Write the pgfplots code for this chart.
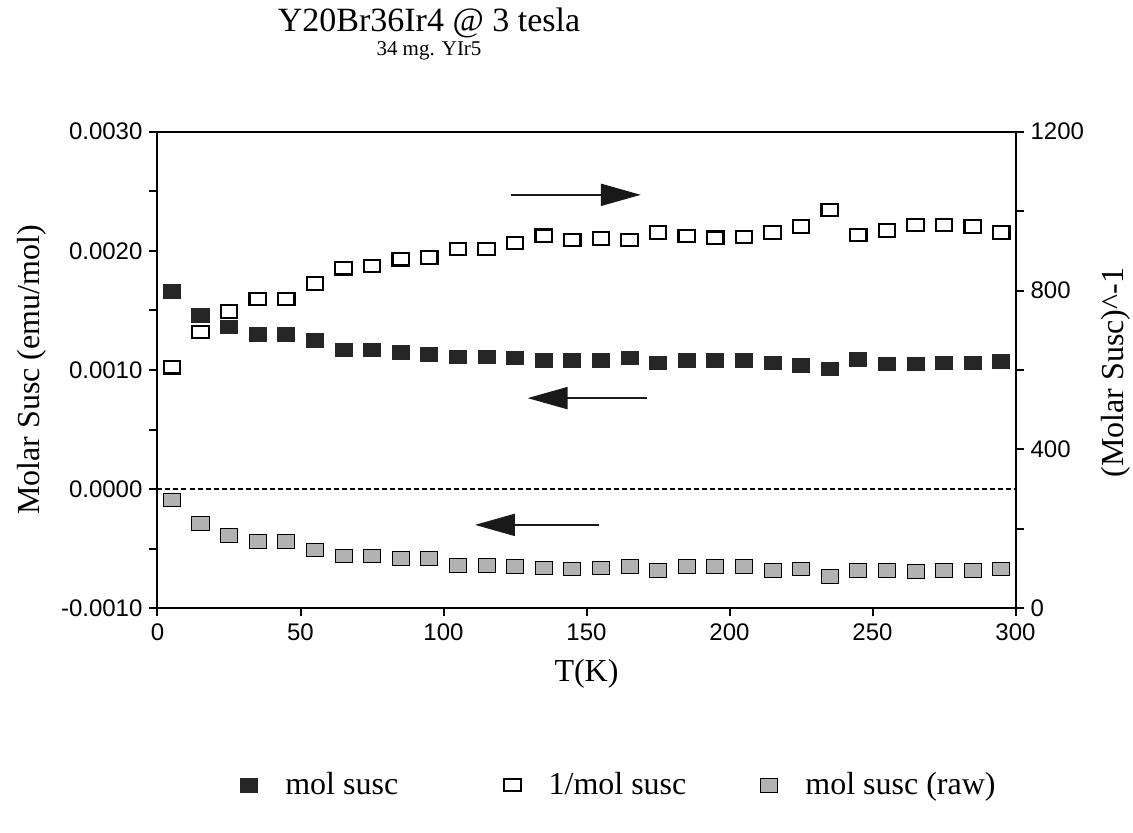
\documentclass[border=0pt]{standalone}
\usepackage{fontspec}
\setmainfont{Liberation Serif}
\newfontfamily\arial{Liberation Sans}
\usepackage{pgfplots}
\pgfplotsset{compat=1.18}
\usepackage{pgfplotstable}
\usetikzlibrary{arrows.meta}

% T(K), molar susc, 1/molar susc, raw molar susc
\pgfplotstableread{
T    chi      inv   raw
5    0.00166  607   -0.00009
15   0.00146  696   -0.00029
25   0.00136  747   -0.00039
35   0.00130  779   -0.00044
45   0.00130  779   -0.00044
55   0.00125  818   -0.00051
65   0.00117  856   -0.00056
75   0.00117  862   -0.00056
85   0.00115  879   -0.00058
95   0.00113  883   -0.00058
105  0.00111  905   -0.00064
115  0.00111  905   -0.00064
125  0.00110  920   -0.00065
135  0.00108  938   -0.00066
145  0.00108  927   -0.00067
155  0.00108  931   -0.00066
165  0.00110  927   -0.00065
175  0.00106  946   -0.00068
185  0.00108  937   -0.00065
195  0.00108  933   -0.00065
205  0.00108  935   -0.00065
215  0.00106  946   -0.00068
225  0.00104  961   -0.00067
235  0.00101  1003  -0.00073
245  0.00109  940   -0.00068
255  0.00105  951   -0.00068
265  0.00105  965   -0.00069
275  0.00106  965   -0.00068
285  0.00106  961   -0.00068
295  0.00107  946   -0.00067
}\susc

\newcommand\lab{\fontsize{16}{19}\selectfont}

\pgfplotsset{
  filled/.style={only marks, mark=square*, mark size=4.25pt,
    mark options={yscale=0.8, draw=black!85, fill=black!85}},
  hollow/.style={only marks, mark=square*, mark size=4.1pt,
    mark options={yscale=0.76, draw=black, fill=white, line width=1.1pt}},
  rawst/.style={only marks, mark=square*, mark size=4.25pt,
    mark options={yscale=0.8, draw=none, fill=black!30}},
  common/.style={
    scale only axis, width=429pt, height=238.3pt,
    xmin=0, xmax=300,
    tick align=outside,
    major tick length=4pt, minor tick length=4pt,
    tick style={black, line width=1pt},
    axis line style={line width=1pt},
    tick label style={font=\arial\fontsize{12}{14}\selectfont},
    scaled ticks=false,
  },
}

\begin{document}
\begin{tikzpicture}
\useasboundingbox (-78.75pt,-112.35pt) rectangle (487.75pt,304.15pt);

\begin{axis}[common,
  ymin=-0.001, ymax=0.003,
  ytick={-0.001,0,0.001,0.002,0.003},
  yticklabels={-0.0010,0.0000,0.0010,0.0020,0.0030},
  minor ytick={-0.0005,0.0005,0.0015,0.0025},
  xtick={0,50,100,150,200,250,300},
  xticklabels={0,50,100,150,200,250,300},
  xtick pos=bottom, ytick pos=left,
]
  \addplot[black, line width=0.8pt, dash pattern=on 2.5pt off 1.5pt]
    coordinates {(0,0) (300,0)};
  \addplot[rawst] table[x=T, y=raw] {\susc};
  \addplot[filled] table[x=T, y=chi] {\susc};
  \draw[line width=1pt, black!90, -{Triangle[length=20pt,width=11pt]}]
    (axis cs:123.7,0.00247) -- (axis cs:169,0.00247);
  \draw[line width=1pt, black!90, -{Triangle[length=20pt,width=11pt]}]
    (axis cs:171,0.000764) -- (axis cs:129.4,0.000764);
  \draw[line width=1pt, black!90, -{Triangle[length=20pt,width=11pt]}]
    (axis cs:154.3,-0.0003) -- (axis cs:111,-0.0003);
\end{axis}

\begin{axis}[common,
  axis x line=none, axis y line*=right,
  ymin=0, ymax=1200,
  ytick={0,400,800,1200},
  yticklabels={0,400,800,1200},
  minor ytick={200,600,1000},
  legend columns=3,
  legend cell align=left,
  legend style={draw=none, fill=none, at={(0.539,-0.371)}, anchor=center,
    font=\lab,
    /tikz/every odd column/.append style={column sep=12pt},
    /tikz/column 2/.style={column sep=51pt},
    /tikz/column 4/.style={column sep=35pt}},
]
  \addlegendimage{filled}
  \addplot[hollow] table[x=T, y=inv] {\susc};
  \addlegendimage{rawst}
  \legend{mol susc, 1/mol susc, mol susc (raw)}
\end{axis}

\node[anchor=base, font=\fontsize{17}{20}\selectfont] at (135.75pt,288.3pt)
  {Y20Br36Ir4 @ 3 tesla};
\node[anchor=base, font=\fontsize{10.5}{12}\selectfont] at (135.75pt,276.6pt)
  {34 mg. YIr5};
\node[anchor=base, font=\lab] at (214.5pt,-36.7pt) {T(K)};
\node[anchor=base, rotate=90, font=\lab] at (-58.75pt,119.15pt)
  {Molar Susc (emu/mol)};
\node[anchor=base, rotate=90, font=\lab] at (483pt,117.9pt)
  {(Molar Susc)\textasciicircum-1};
\end{tikzpicture}
\end{document}
